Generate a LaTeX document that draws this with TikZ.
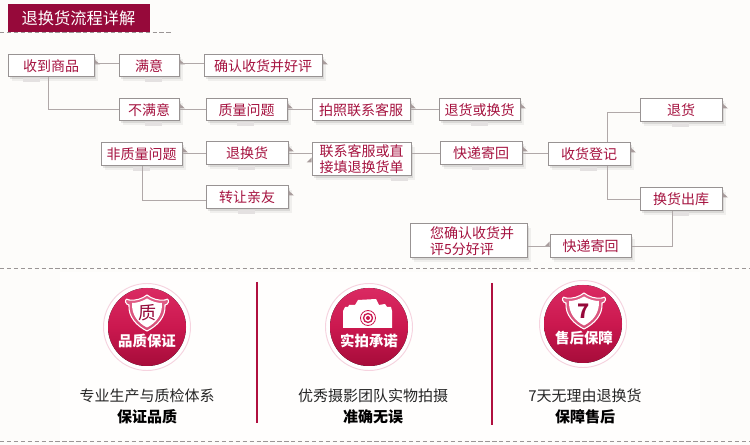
\documentclass[tikz,border=0pt]{standalone}
\usepackage{fontspec}
\setmainfont{Noto Sans CJK SC}
\usetikzlibrary{calc,shadows}
\definecolor{pagebg}{HTML}{FDFCFA}
\definecolor{panelbg}{HTML}{FFFEFD}
\definecolor{crimson}{HTML}{96093A}
\definecolor{stepink}{HTML}{A5123F}
\definecolor{stepedge}{HTML}{989393}
\definecolor{wirecol}{HTML}{B0A8A8}
\definecolor{tabcol}{HTML}{A89C9C}
\definecolor{patchcol}{HTML}{E4E1E1}
\definecolor{dashcol}{HTML}{9A9595}
\definecolor{ruler}{HTML}{B0103F}
\definecolor{ringcol}{HTML}{F6D3DF}
\definecolor{discTop}{HTML}{DA2A62}
\definecolor{discMid}{HTML}{CB184F}
\definecolor{discLow}{HTML}{A60C3A}
\tikzset{
  x=0.75pt, y=-0.75pt,
  flowbox/.style={draw=stepedge, line width=0.75pt, fill=white, text=stepink, inner sep=0pt,
    font=\fontsize{10.5pt}{12pt}\selectfont, align=center,
    general shadow={fill=black, opacity=.05, shadow xshift=2.8pt, shadow yshift=-2.8pt},
    general shadow={fill=black, opacity=.09, shadow xshift=1.6pt, shadow yshift=-1.6pt}},
  wire/.style={draw=wirecol, line width=0.7pt},
  dashrule/.style={draw=dashcol, line width=0.55pt, dash pattern=on 3.2pt off 2pt},
  sideline/.style={draw=ruler, line width=0.9pt},
  ring/.style={draw=ringcol, line width=0.7pt, fill=white},
  disc/.style={top color=discTop, bottom color=discLow, middle color=discMid, draw=none},
  disclabel/.style={text=white, font=\fontsize{10.8pt}{12pt}\selectfont\bfseries, inner sep=0pt},
  bodyline/.style={text=black!85, font=\fontsize{11.25pt}{13pt}\selectfont, inner sep=0pt},
  boldline/.style={text=black, font=\fontsize{11.25pt}{13pt}\selectfont\bfseries, inner sep=0pt},
}
% one flow step, given by its corner positions in pixels
\newcommand{\stepnode}[6]{%
  \pgfmathsetmacro{\cxx}{(#2+#4)/2}\pgfmathsetmacro{\cyy}{(#3+#5)/2}%
  \pgfmathsetmacro{\www}{(#4-#2)*0.75}\pgfmathsetmacro{\hhh}{(#5-#3)*0.75}%
  \node[flowbox, minimum width=\www pt, minimum height=\hhh pt] (#1) at (\cxx,\cyy) {#6};}
% little triangular tabs on a box's side
\newcommand{\tabright}[1]{\fill[tabcol] ($(#1.north east)+(0,5)$) -- ($(#1.north east)+(5.5,10)$) -- ($(#1.north east)+(0,10)$) -- cycle;}
\newcommand{\tableft}[2]{\fill[tabcol] ($(#1.north west)+(0,#2)$) -- ($(#1.north west)+(-5,#2+5)$) -- ($(#1.north west)+(0,#2+5)$) -- cycle;}
% grey patch under a box
\newcommand{\patch}[2]{\fill[patchcol] ($(#1.south west)+(#2-8.5,1)$) rectangle ($(#1.south west)+(#2+8.5,5)$);}
% left-set line for the two-line box
\newcommand{\setoff}[1]{\hspace*{5.25pt}\makebox[63pt][l]{#1}}
% shield badge outlines, relative to the top point
\newcommand{\shieldpath}{(0,0) .. controls (5,4) and (12,6) .. (18,5) .. controls (19,3) and (22,4) .. (21.5,7) .. controls (21,9) and (19,10) .. (18,10) .. controls (19,22) and (10,31) .. (0,36) .. controls (-10,31) and (-19,22) .. (-18,10) .. controls (-19,10) and (-21,9) .. (-21.5,7) .. controls (-22,4) and (-19,3) .. (-18,5) .. controls (-12,6) and (-5,4) .. (0,0) -- cycle}
\newcommand{\shieldinner}{(0,3.5) .. controls (5,6.5) and (10,8) .. (15,8) .. controls (15.5,20) and (9,28) .. (0,32.5) .. controls (-9,28) and (-15.5,20) .. (-15,8) .. controls (-10,8) and (-5,6.5) .. (0,3.5) -- cycle}

\begin{document}
\begin{tikzpicture}
\useasboundingbox (0,0) rectangle (750,445);
\fill[pagebg] (0,0) rectangle (750,445);
\fill[panelbg] (60,272) rectangle (700,440);

% heading
\node[fill=crimson, text=white, minimum width=106.5pt, minimum height=21pt, inner sep=0pt,
      font=\fontsize{12.2pt}{14pt}\selectfont] (heading) at (78.5,18) {退换货流程详解};
\coordinate (headL) at (0,32);
\coordinate (headR) at (171,32);
\draw[dashrule] (headL) -- (headR);

% flow steps
\stepnode{recv}{8}{55}{94}{77}{收到商品}
\stepnode{ok}{119}{55}{179}{77}{满意}
\stepnode{confirm}{204}{55}{322}{77}{确认收货并好评}
\stepnode{notok}{119}{99}{179}{121}{不满意}
\stepnode{quality}{206}{99}{287}{121}{质量问题}
\stepnode{phone}{312}{99}{410}{121}{拍照联系客服}
\stepnode{either}{439}{99}{520}{121}{退货或换货}
\stepnode{nonq}{101}{143}{182}{166}{非质量问题}
\stepnode{ret}{206}{142}{288}{165}{退换货}
\stepnode{contact}{312}{143}{411}{176}{联系客服或直\\接填退换货单}
\stepnode{gift}{206}{186}{288}{209}{转让亲友}
\stepnode{post}{440}{142}{522}{165}{快递寄回}
\stepnode{log}{548}{143}{630}{166}{收货登记}
\stepnode{refund}{640}{99}{722}{122}{退货}
\stepnode{out}{640}{188}{722}{211}{换货出库}
\stepnode{post2}{550}{235}{631}{258}{快递寄回}
\stepnode{praise}{410}{224}{527}{258}{\setoff{您确认收货并}\\\setoff{评5分好评}}

\patch{recv}{24}
\patch{ok}{35}
\patch{notok}{35}
\patch{quality}{40}
\patch{nonq}{41}
\patch{ret}{41}
\patch{gift}{41}
\patch{contact}{88}
\patch{either}{41}
\patch{post}{41}
\patch{log}{41}
\patch{refund}{41}
\patch{out}{41}

\tabright{recv}\tabright{ok}\tabright{confirm}\tabright{notok}\tabright{quality}
\tabright{phone}\tabright{either}\tabright{nonq}\tabright{ret}\tabright{gift}
\tabright{post}\tabright{log}\tabright{refund}\tabright{out}
\tableft{contact}{15}
\tableft{post2}{7}

% connectors
\draw[wire] (recv.east |- 0,63) -- (ok.west |- 0,63);
\draw[wire] (ok.east |- 0,63) -- (confirm.west |- 0,63);
\draw[wire] (recv.south -| 48,0) |- (notok.west |- 0,109);
\draw[wire] (notok.east |- 0,109) -- (quality.west |- 0,109);
\draw[wire] (quality.east |- 0,109) -- (phone.west |- 0,109);
\draw[wire] (phone.east |- 0,109) -- (either.west |- 0,109);
\draw[wire] (nonq.east |- 0,153) -- (ret.west |- 0,153);
\draw[wire] (ret.east |- 0,153) -- (contact.west |- 0,153);
\draw[wire] (contact.east |- 0,153) -- (post.west |- 0,153);
\draw[wire] (post.east |- 0,153) -- (log.west |- 0,153);
\draw[wire] (nonq.south -| 142,0) |- (gift.west |- 0,200);
\draw[wire] (log.north -| 607,0) |- (refund.west |- 0,112);
\draw[wire] (log.south -| 607,0) |- (out.west |- 0,199);
\draw[wire] (out.south -| 672,0) |- (post2.east |- 0,246);
\draw[wire] (post2.west |- 0,246) -- (praise.east |- 0,246);

% lower section rules
\coordinate (midL) at (0,268); \coordinate (midR) at (750,268);
\coordinate (lowL) at (0,441); \coordinate (lowR) at (750,441);
\draw[dashrule] (midL) -- (midR);
\draw[dashrule] (lowL) -- (lowR);
\coordinate (v1a) at (257,282); \coordinate (v1b) at (257,423);
\coordinate (v2a) at (492,283); \coordinate (v2b) at (492,425);
\draw[sideline] (v1a) -- (v1b);
\draw[sideline] (v2a) -- (v2b);

% quality badge
\draw[ring] (147,327) circle [radius=43.5];
\fill[disc] (147,327) circle [radius=39];
\begin{scope}[shift={(147,295)}]
  \draw[white, line width=0.8pt, fill=white, fill opacity=.25] \shieldpath;
  \fill[white] \shieldinner;
\end{scope}
\node[text=crimson, font=\fontsize{13.5pt}{15pt}\selectfont, inner sep=0pt] (qmark) at (147,313) {质};
\node[disclabel] (qlabel) at (147,341) {品质保证};

% camera badge
\draw[ring] (369,327) circle [radius=43.5];
\fill[disc] (369,327) circle [radius=39];
\fill[white] (343,311) -- (345,307) -- (348,307) -- (349,305) -- (355,305) -- (358,300) -- (376,299)
  -- (379,305) -- (385,304) -- (387,307) -- (391,307) -- (392,311) -- (392,328) -- (343,328) -- cycle;
\draw[discMid, line width=0.6pt] (368,318) circle [radius=7.5];
\draw[discMid, line width=1pt] (368,318) circle [radius=4.5];
\fill[discMid] (368,318) circle [radius=2];
\node[disclabel] (clabel) at (369,341) {实拍承诺};

% seven-day badge
\draw[ring] (583,324) circle [radius=43.5];
\fill[disc] (583,324) circle [radius=39];
\begin{scope}[shift={(584,293)}]
  \draw[white, line width=0.8pt, fill=white, fill opacity=.25] \shieldpath;
  \fill[white] \shieldinner;
\end{scope}
\node[text=crimson, font=\fontsize{15pt}{17pt}\selectfont\bfseries, inner sep=0pt] (seven) at (584,311) {7};
\node[disclabel] (slabel) at (584,338) {售后保障};

% captions
\node[bodyline] (cap1a) at (147,396) {专业生产与质检体系};
\node[boldline] (cap1b) at (147,417) {保证品质};
\node[bodyline] (cap2a) at (373,396) {优秀摄影团队实物拍摄};
\node[boldline] (cap2b) at (373,417) {准确无误};
\node[bodyline] (cap3a) at (585,396) {7天无理由退换货};
\node[boldline] (cap3b) at (585,417) {保障售后};
\end{tikzpicture}
\end{document}
